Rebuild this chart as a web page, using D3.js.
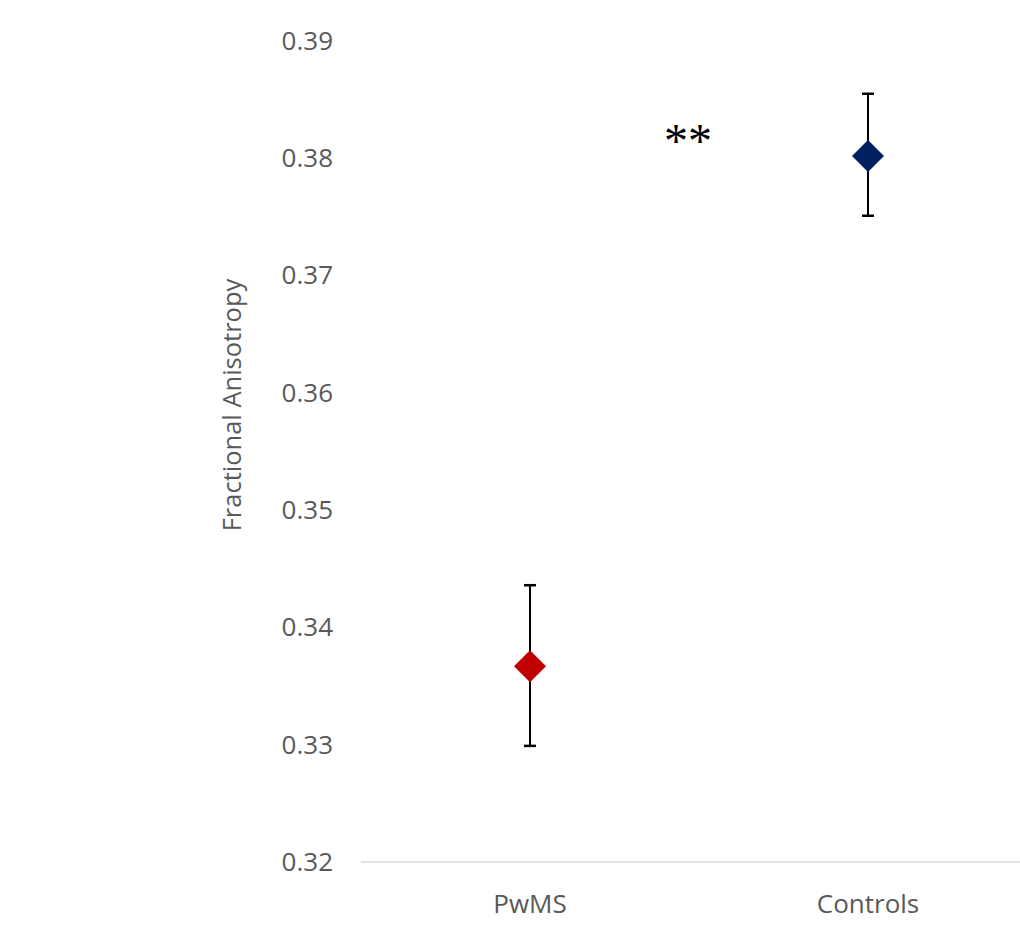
<!DOCTYPE html>
<html>
<head>
<meta charset="utf-8">
<script src="https://cdn.jsdelivr.net/npm/d3@7"></script>
<style>
  body { margin: 0; background: #fff; }
  svg text { font-family: "Open Sans", sans-serif; }
</style>
</head>
<body>
<div id="chart"></div>
<script>
var categories = ['PwMS', 'Controls'];
var means = [0.3367, 0.3802];
var errUpper = [0.3436, 0.3855];
var errLower = [0.3299, 0.3751];
var colors = ['#c00000', '#002060'];
var yTicks = [0.32, 0.33, 0.34, 0.35, 0.36, 0.37, 0.38, 0.39];

var width = 1020, height = 925;

var svg = d3.select('#chart').append('svg')
    .attr('width', width)
    .attr('height', height);

var x = d3.scaleBand()
    .domain(categories)
    .range([361, 1037]);

var y = d3.scaleLinear()
    .domain([0.32, 0.39])
    .range([862, 41]);

// y tick labels (no axis line)
var yAxis = svg.append('g')
    .attr('transform', 'translate(333,0)')
    .call(d3.axisLeft(y).tickValues(yTicks).tickFormat(d3.format('.2f')).tickSize(0).tickPadding(0));
yAxis.select('.domain').remove();
yAxis.selectAll('text')
    .attr('fill', '#595959')
    .style('font-size', '26px');

// x axis
var xAxis = svg.append('g')
    .attr('transform', 'translate(0,862)')
    .call(d3.axisBottom(x).tickSize(0).tickPadding(33));
xAxis.select('.domain')
    .attr('stroke', '#d9d9d9')
    .attr('stroke-width', 1.5)
    .attr('d', 'M361,0H1020');
xAxis.selectAll('text')
    .attr('fill', '#595959')
    .style('font-size', '26px');

// y title
svg.append('text')
    .attr('transform', 'translate(241,405) rotate(-90)')
    .attr('text-anchor', 'middle')
    .attr('fill', '#595959')
    .style('font-size', '25.5px')
    .text('Fractional Anisotropy');

var cx = function(i){ return x(categories[i]) + x.bandwidth() / 2; };

// error bars
var bars = svg.append('g');
categories.forEach(function(c, i){
    bars.append('line')
        .attr('x1', cx(i)).attr('x2', cx(i))
        .attr('y1', y(errUpper[i])).attr('y2', y(errLower[i]))
        .attr('stroke', 'black').attr('stroke-width', 2);
    [errUpper[i], errLower[i]].forEach(function(v){
        bars.append('line')
            .attr('x1', cx(i) - 6).attr('x2', cx(i) + 6)
            .attr('y1', y(v)).attr('y2', y(v))
            .attr('stroke', 'black').attr('stroke-width', 2.5);
    });
});

// diamond markers
svg.append('g').selectAll('path')
    .data(means)
    .enter()
        .append('path')
        .attr('d', 'M0,-16L16,0L0,16L-16,0Z')
        .attr('transform', function(d, i){ return 'translate(' + cx(i) + ',' + y(d) + ')'; })
        .attr('fill', function(d, i){ return colors[i]; });

// significance marker
svg.append('text')
    .attr('x', (cx(0) + cx(1)) / 2 - 11)
    .attr('y', y(0.3802) + 1)
    .attr('text-anchor', 'middle')
    .style('font-family', '"Liberation Serif", serif')
    .style('font-size', '48px')
    .attr('fill', 'black')
    .text('**');
</script>
</body>
</html>
